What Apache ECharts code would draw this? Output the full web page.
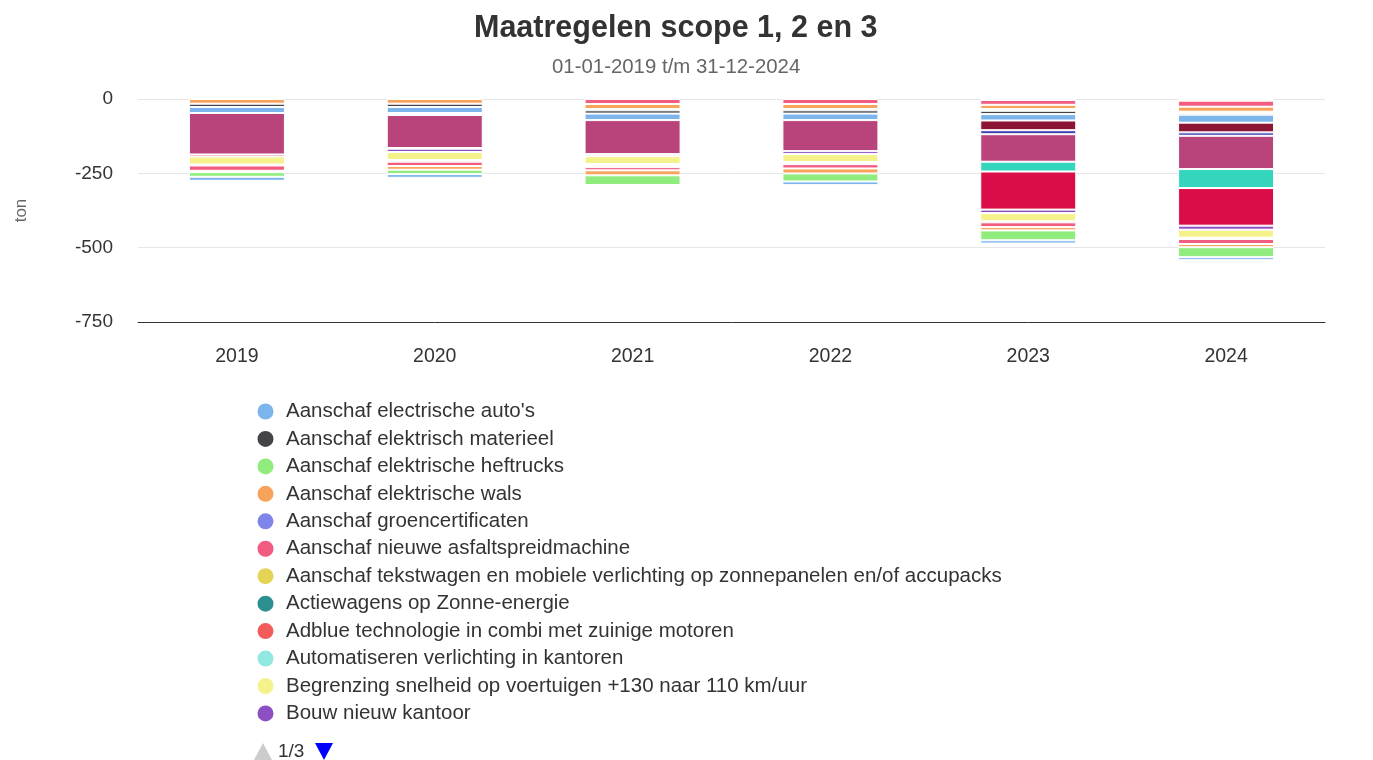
<!DOCTYPE html>
<html>
<head>
<meta charset="utf-8">
<title>Maatregelen scope 1, 2 en 3</title>
<script src="https://cdn.jsdelivr.net/npm/echarts@6/dist/echarts.min.js"></script>
<style>
  html, body { margin: 0; padding: 0; background: #fff; }
  #main { width: 1373px; height: 760px; }
</style>
</head>
<body>
<div id="main"></div>
<script>
// jaren op de x-as
var years = ['2019', '2020', '2021', '2022', '2023', '2024'];

// maatregelen, in volgorde van de legenda (3 pagina's)
var seriesNames = [
  "Aanschaf electrische auto's",
  'Aanschaf elektrisch materieel',
  'Aanschaf elektrische heftrucks',
  'Aanschaf elektrische wals',
  'Aanschaf groencertificaten',
  'Aanschaf nieuwe asfaltspreidmachine',
  'Aanschaf tekstwagen en mobiele verlichting op zonnepanelen en/of accupacks',
  'Actiewagens op Zonne-energie',
  'Adblue technologie in combi met zuinige motoren',
  'Automatiseren verlichting in kantoren',
  'Begrenzing snelheid op voertuigen +130 naar 110 km/uur',
  'Bouw nieuw kantoor',
  'Carpoolen',
  'Cursus Het Nieuwe Rijden',
  'Duurzaam asfalt',
  'Elektrische bedrijfsbusjes',
  'Energiezuinige verlichting werkplaats',
  'Gebruik HVO-diesel',
  'Groene stroom',
  'Hybride kraan',
  'Isolatie bedrijfspand',
  'LED-verlichting terrein',
  'Optimalisatie transportplanning',
  'Retourvrachten',
  'Slimme meters',
  'Thuiswerken',
  'Verduurzamen leaseregeling',
  'Warmtepomp kantoor',
  'Zonnepanelen dak',
  'Zuinige banden'
];

var seriesColors = [
  '#7cb5ec', '#434348', '#90ed7d', '#f7a35c', '#8085e9', '#f15c80',
  '#e4d354', '#2b908f', '#f45b5b', '#91e8e1', '#f6f28b', '#8d4fc2',
  '#da0d48', '#33d6bd', '#b9437b', '#3f3fb0', '#8c1535',
  '#7cb5ec', '#434348', '#90ed7d', '#f7a35c', '#8085e9', '#f15c80',
  '#e4d354', '#2b908f', '#f45b5b', '#91e8e1', '#f6f28b', '#8d4fc2', '#da0d48'
];

// reductie in ton per jaar (negatief), null = geen waarde
var autos          = [-13.5, -12.4, null, -12.4, -11.1, -10.1];
var materieel      = [null, null, null, null, null, null];
var heftrucks      = [-15.5, -14.8, -32.6, -26.9, -33, -33.6];
var wals           = [null, -12.4, -16.8, -16.8, -11.1, -10.8];
var groencert      = [-4.7, null, null, null, null, null];
var asfalt         = [-17.8, -14.5, -10.8, -14.5, -16.1, -16.8];
var tekstwagen     = [null, null, -3.4, null, null, null];
var actiewagens    = [null, null, -3.4, -3.4, null, null];
var adblue         = [-3.4, -5.7, -3.4, -3.4, -3.4, -4.4];
var verlichting    = [null, null, null, null, null, null];
var snelheid       = [-26.9, -26.9, -26.9, -27, -27.6, -26.9];
var kantoor        = [null, -11.1, null, -10, -11.8, -13.5];
var carpoolen      = [-6.7, -2.4, -6.7, null, -128.1, -126.5];
var hnr            = [null, null, null, null, -33, -63.9];
var duurzaamAsfalt = [-139.5, -111, -114.3, -104.3, -92.5, -112];
var busjes         = [null, null, null, null, -13.5, -11.4];
var werkplaats     = [null, -6.7, null, null, -32.6, -32.6];
var hvo            = [-20.2, -20.2, -21.9, -21.9, -21.5, -26.9];
var groeneStroom   = [-11.1, -11.1, -11.1, -11.1, -11.1, -5];
var kraan          = [null, null, -4.4, -4.4, -5.7, -5];
var isolatie       = [-15.8, -15.8, -16.8, -16.8, -14.5, -16.8];
var ledTerrein     = [null, null, null, null, null, null];
var planning       = [null, null, -16.8, -16.8, -16.1, -20.2];
var retour         = [null, null, null, null, -3.4, -5.7];
var meters         = [null, null, null, null, null, null];
var thuiswerken    = [null, null, null, null, null, null];
var lease          = [null, null, null, null, null, null];
var warmtepomp     = [null, null, null, null, null, null];
var zonnepanelen   = [null, null, null, null, null, null];
var banden         = [null, null, null, null, null, null];

var seriesValues = [
  autos, materieel, heftrucks, wals, groencert, asfalt, tekstwagen, actiewagens,
  adblue, verlichting, snelheid, kantoor, carpoolen, hnr, duurzaamAsfalt, busjes,
  werkplaats, hvo, groeneStroom, kraan, isolatie, ledTerrein, planning, retour,
  meters, thuiswerken, lease, warmtepomp, zonnepanelen, banden
];

var font = '"Liberation Sans", Arial, Helvetica, sans-serif';
var pageSize = 12;
var page = 0;
var pageCount = Math.ceil(seriesNames.length / pageSize);

var myChart = echarts.init(document.getElementById('main'));

// echarts stapelt vanaf 0: eerste serie ligt het dichtst bij de as,
// dus omgekeerde volgorde zodat de eerste maatregel onderaan komt
var series = [];
for (var i = seriesNames.length - 1; i >= 0; i--) {
  series.push({
    name: seriesNames[i],
    type: 'bar',
    stack: 'totaal',
    barWidth: 96,
    data: seriesValues[i],
    itemStyle: {
      color: seriesColors[i],
      borderColor: '#ffffff',
      borderWidth: 1
    },
    emphasis: { disabled: true }
  });
}

function legendPage(p) {
  return seriesNames.slice(p * pageSize, (p + 1) * pageSize);
}

function pagerGraphic() {
  var hasPrev = page > 0;
  var hasNext = page < pageCount - 1;
  return [{
    type: 'group',
    id: 'pager',
    left: 254,
    top: 742,
    children: [
      {
        type: 'polygon',
        id: 'pagerPrev',
        shape: { points: [[0, 17], [9, 0], [18, 17]] },
        style: { fill: hasPrev ? '#0000ff' : '#cccccc' },
        onclick: function () {
          if (page > 0) { page--; update(); }
        }
      },
      {
        type: 'text',
        id: 'pagerText',
        x: 24,
        y: -1,
        style: {
          text: (page + 1) + '/' + pageCount,
          font: '19px ' + font,
          fill: '#333333'
        }
      },
      {
        type: 'polygon',
        id: 'pagerNext',
        x: 61,
        shape: { points: [[0, 0], [18, 0], [9, 17]] },
        style: { fill: hasNext ? '#0000ff' : '#cccccc' },
        onclick: function () {
          if (page < pageCount - 1) { page++; update(); }
        }
      }
    ]
  }];
}

function update() {
  myChart.setOption({
    legend: { data: legendPage(page) },
    graphic: pagerGraphic()
  });
}

var option = {
  animation: false,
  backgroundColor: '#ffffff',
  textStyle: { fontFamily: font },
  title: [
    {
      text: 'Maatregelen scope 1, 2 en 3',
      left: 474,
      top: 13,
      padding: 0,
      textStyle: { fontSize: 30.5, fontWeight: 'bold', color: '#333333', fontFamily: font }
    },
    {
      text: '01-01-2019 t/m 31-12-2024',
      left: 552,
      top: 57,
      padding: 0,
      textStyle: { fontSize: 20.4, fontWeight: 'normal', color: '#666666', fontFamily: font }
    }
  ],
  legend: {
    type: 'plain',
    orient: 'vertical',
    left: 250.5,
    top: 396,
    icon: 'circle',
    itemWidth: 31,
    itemHeight: 18,
    itemGap: 6.45,
    selectedMode: true,
    data: legendPage(page),
    textStyle: { fontSize: 20.5, color: '#333333', fontFamily: font }
  },
  grid: {
    left: 138,
    right: 48,
    top: 99,
    bottom: 438,
    containLabel: false
  },
  xAxis: {
    type: 'category',
    data: years,
    axisLine: { onZero: false, lineStyle: { color: '#333333', width: 1 } },
    axisTick: { show: false },
    axisLabel: { fontSize: 19.5, color: '#333333', margin: 25, fontFamily: font }
  },
  yAxis: {
    type: 'value',
    min: -750,
    max: 0,
    interval: 250,
    name: 'ton',
    nameLocation: 'middle',
    nameGap: 108,
    nameRotate: 90,
    nameTextStyle: { fontSize: 17, color: '#666666', fontFamily: font },
    axisLine: { show: false },
    axisTick: { show: false },
    axisLabel: { fontSize: 19, color: '#333333', margin: 25, fontFamily: font },
    splitLine: { lineStyle: { color: '#e6e6e6', width: 1 } }
  },
  graphic: pagerGraphic(),
  series: series
};

myChart.setOption(option);
</script>
</body>
</html>
